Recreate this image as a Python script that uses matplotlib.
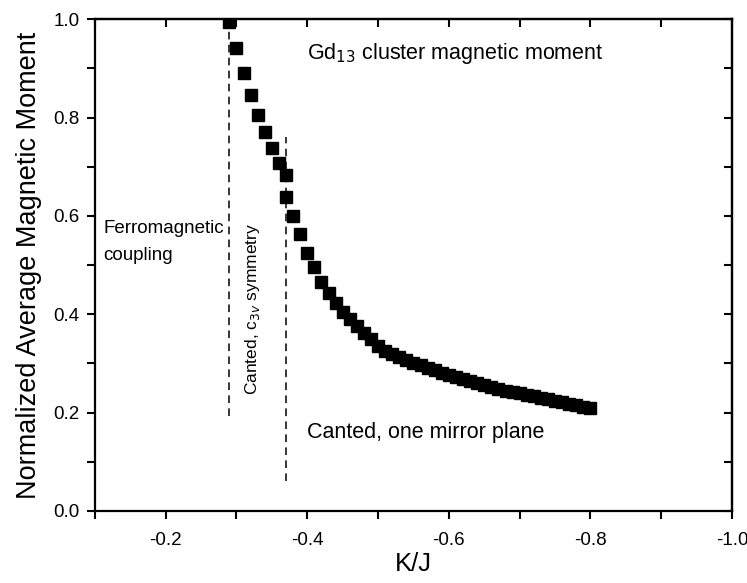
import matplotlib
matplotlib.use("Agg")
import matplotlib.pyplot as plt
from matplotlib.ticker import MultipleLocator, NullFormatter

plt.rcParams['font.family'] = ['Liberation Sans', 'DejaVu Sans']

# K/J values and normalized average magnetic moment
kj = [-0.29, -0.30, -0.31, -0.32, -0.33, -0.34, -0.35, -0.36, -0.37, -0.37,
      -0.38, -0.39, -0.40, -0.41, -0.42, -0.43, -0.44, -0.45, -0.46, -0.47,
      -0.48, -0.49, -0.50, -0.51, -0.52, -0.53, -0.54, -0.55, -0.56, -0.57,
      -0.58, -0.59, -0.60, -0.61, -0.62, -0.63, -0.64, -0.65, -0.66, -0.67,
      -0.68, -0.69, -0.70, -0.71, -0.72, -0.73, -0.74, -0.75, -0.76, -0.77,
      -0.78, -0.79, -0.80]
moment = [0.995, 0.941, 0.890, 0.846, 0.805, 0.770, 0.738, 0.707, 0.683, 0.638,
          0.600, 0.563, 0.524, 0.496, 0.465, 0.443, 0.423, 0.404, 0.390, 0.376,
          0.362, 0.350, 0.335, 0.326, 0.319, 0.313, 0.307, 0.301, 0.296, 0.291,
          0.286, 0.281, 0.277, 0.272, 0.268, 0.264, 0.260, 0.256, 0.252, 0.249,
          0.245, 0.242, 0.239, 0.236, 0.233, 0.230, 0.227, 0.224, 0.221, 0.218,
          0.215, 0.212, 0.209]

# phase boundaries: x position, y start, y end
boundaries = [(-0.29, 0.193, 1.0), (-0.37, 0.06, 0.76)]

fig = plt.figure(figsize=(7.47, 5.83), dpi=100)
ax = fig.add_axes([0.127, 0.1235, 0.853, 0.8435])

ax.plot(kj, moment, linestyle='none', marker='s', markersize=8,
        color='black', zorder=3)

for xb, y0, y1 in boundaries:
    ax.plot([xb, xb], [y0, y1], color='black', linestyle=(0, (5, 3.5)),
            linewidth=1.1, zorder=2)

ax.set_xlim(-0.1, -1.0)
ax.set_ylim(0.0, 1.0)

ax.xaxis.set_major_locator(MultipleLocator(0.2))
ax.xaxis.set_minor_locator(MultipleLocator(0.1))
ax.yaxis.set_major_locator(MultipleLocator(0.2))
ax.yaxis.set_minor_locator(MultipleLocator(0.1))
ax.xaxis.set_major_formatter(plt.FuncFormatter(lambda v, p: f"{v:.1f}"))
ax.yaxis.set_major_formatter(plt.FuncFormatter(lambda v, p: f"{v:.1f}"))

ax.tick_params(which='both', direction='out', width=1.5, labelsize=13.5)
ax.tick_params(which='major', length=6)
ax.tick_params(which='minor', length=6)
ax.tick_params(axis='x', which='major', pad=9)
ax.tick_params(axis='y', which='major', pad=5)
for s in ax.spines.values():
    s.set_linewidth(1.6)

# mirrored inward ticks on top and right
top = ax.secondary_xaxis('top')
top.xaxis.set_major_locator(MultipleLocator(0.1))
top.xaxis.set_major_formatter(NullFormatter())
top.tick_params(direction='in', length=6, width=1.5)
right = ax.secondary_yaxis('right')
right.yaxis.set_major_locator(MultipleLocator(0.1))
right.yaxis.set_major_formatter(NullFormatter())
right.tick_params(direction='in', length=6, width=1.5)
for sec in (top, right):
    for s in sec.spines.values():
        s.set_linewidth(1.6)

ax.set_xlabel('K/J', fontsize=18.5, labelpad=2)
ax.set_ylabel('Normalized Average Magnetic Moment', fontsize=19.5, labelpad=8)

ax.text(-0.4, 0.93, 'Gd$_{13}$ cluster magnetic moment', fontsize=15.5,
        ha='left', va='center')
ax.text(-0.112, 0.547, 'Ferromagnetic\ncoupling', fontsize=13.5,
        ha='left', va='center', linespacing=1.75)
ax.text(-0.322, 0.41, 'Canted, c$_{3v}$ symmetry', fontsize=12.5,
        rotation=90, ha='center', va='center')
ax.text(-0.4, 0.16, 'Canted, one mirror plane', fontsize=15.5,
        ha='left', va='center')

fig.savefig('out.png', dpi=100)
